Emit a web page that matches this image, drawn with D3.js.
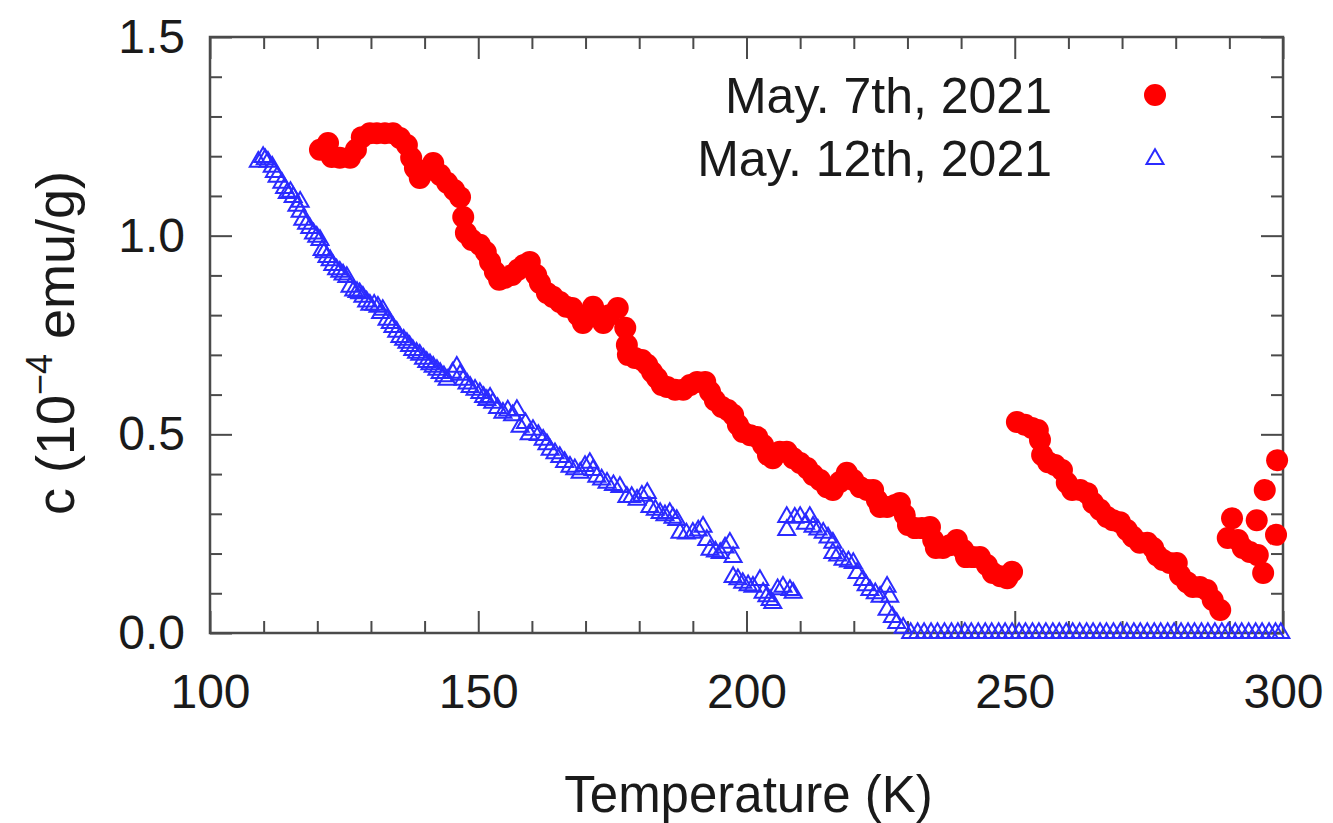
<!DOCTYPE html>
<html>
<head>
<meta charset="utf-8">
<script src="https://cdn.jsdelivr.net/npm/d3@7"></script>
<style>
  html, body { margin: 0; padding: 0; background: #fff; }
  svg { display: block; }
  text { font-family: "Liberation Sans", Arial, Helvetica, sans-serif; fill: #1a1a1a; }
</style>
</head>
<body>
<svg id="chart" width="1333" height="823"></svg>
<script>
// Susceptibility vs temperature, two measurement runs

const seriesLabels = ["May. 7th, 2021", "May. 12th, 2021"];

// Run 1 (filled red circles)
const tempMay7 = [
  120.5, 122.0, 122.7, 124.2, 126.1, 127.2, 128.3, 129.8, 131.1, 132.6,
  134.1, 135.4, 136.7, 137.5, 138.2, 139.1, 140.4, 141.6, 142.9, 144.2,
  145.5, 146.6, 147.2, 147.7, 148.8, 150.3, 151.4, 152.2, 153.1, 153.9,
  155.0, 156.3, 157.4, 158.5, 159.6, 160.8, 161.5, 162.8, 163.9, 165.2,
  166.4, 167.5, 168.6, 169.5, 170.5, 171.4, 172.3, 173.3, 174.4, 176.0,
  177.4, 177.7, 177.9, 179.2, 180.5, 181.5, 182.4, 183.3, 184.2, 185.2,
  186.7, 188.2, 189.5, 190.8, 192.3, 193.2, 194.1, 195.4, 196.5, 197.5,
  198.4, 199.3, 200.7, 202.0, 203.1, 204.0, 204.9, 206.2, 207.5, 208.7,
  210.0, 211.3, 212.4, 213.7, 215.0, 216.1, 217.4, 218.7, 219.9, 221.2,
  222.5, 223.6, 224.3, 224.9, 226.2, 227.7, 228.6, 229.5, 230.1, 231.4,
  232.7, 234.2, 234.8, 235.3, 236.6, 237.9, 239.2, 240.4, 240.9, 242.2,
  243.5, 244.8, 245.9, 247.3, 248.6, 249.5,
  250.4, 251.9, 253.2, 254.3, 254.7, 255.1, 256.2, 257.5, 258.8, 259.7,
  260.7, 262.2, 263.5, 264.6, 265.9, 267.2, 268.3, 269.6, 270.9, 272.0,
  273.3, 274.7, 275.8, 276.5, 277.6, 278.9, 280.2, 280.8, 282.1, 283.2,
  284.5, 285.8, 286.9, 288.3,
  289.7, 290.5, 291.6, 292.5, 293.8, 295.1, 295.3, 296.3, 296.6, 298.7, 298.9
];
const chiMay7 = [
  1.216, 1.233, 1.198, 1.196, 1.196, 1.216, 1.248, 1.258, 1.258, 1.258,
  1.258, 1.246, 1.228, 1.196, 1.170, 1.145, 1.165, 1.183, 1.153, 1.133,
  1.115, 1.097, 1.047, 1.007, 0.989, 0.977, 0.959, 0.934, 0.909, 0.889,
  0.894, 0.901, 0.914, 0.926, 0.934, 0.901, 0.881, 0.856, 0.846, 0.833,
  0.821, 0.818, 0.800, 0.780, 0.800, 0.821, 0.800, 0.780, 0.800, 0.818,
  0.768, 0.725, 0.700, 0.692, 0.687, 0.675, 0.657, 0.642, 0.624, 0.619,
  0.612, 0.612, 0.624, 0.632, 0.632, 0.607, 0.586, 0.569, 0.561, 0.549,
  0.524, 0.506, 0.498, 0.493, 0.473, 0.448, 0.440, 0.456, 0.456, 0.440,
  0.428, 0.415, 0.398, 0.385, 0.367, 0.360, 0.380, 0.403, 0.385, 0.367,
  0.360, 0.360, 0.335, 0.317, 0.317, 0.322, 0.327, 0.297, 0.272, 0.264,
  0.264, 0.267, 0.234, 0.214, 0.214, 0.221, 0.234, 0.209, 0.191, 0.191,
  0.191, 0.171, 0.151, 0.143, 0.138, 0.154,
  0.531, 0.524, 0.516, 0.511, 0.486, 0.448, 0.430, 0.423, 0.410, 0.378,
  0.360, 0.360, 0.352, 0.327, 0.310, 0.292, 0.284, 0.279, 0.259, 0.242,
  0.227, 0.227, 0.214, 0.196, 0.184, 0.176, 0.176, 0.146, 0.128, 0.116,
  0.116, 0.108, 0.083, 0.058,
  0.239, 0.289, 0.234, 0.214, 0.204, 0.284, 0.196, 0.151, 0.360, 0.247, 0.435
];

// Run 2 (open blue triangles)
const tempMay12 = [
  109.0, 109.9, 110.3, 110.8, 111.6, 112.0, 112.5, 113.4, 113.9, 114.4,
  115.0, 115.5, 116.2, 116.8, 116.8, 117.3, 118.0, 118.6, 119.3, 119.9,
  120.5, 120.9, 121.3, 121.8, 122.4, 122.9, 123.6, 124.2, 124.8, 125.5,
  126.1, 126.8, 127.4, 127.9, 128.5, 129.2, 129.8, 130.6, 131.3, 131.8,
  132.2, 133.0, 133.6, 134.1, 134.8, 135.4, 136.1, 136.7, 137.2, 137.8,
  138.5, 139.1, 139.8, 140.4, 141.0, 141.6, 142.3, 142.9, 143.6, 144.2,
  145.2, 146.0, 146.6, 147.2, 147.9, 148.5, 149.4, 150.3, 151.0, 151.6,
  152.2, 152.7, 153.6, 154.6, 155.5, 156.4, 157.2, 157.8, 158.8, 159.5,
  160.2, 161.2, 162.1, 162.8, 163.4, 164.3, 165.2, 166.1, 167.1, 168.0,
  169.0, 169.9, 170.8, 171.4, 172.1, 173.0, 174.0, 175.2, 176.4, 177.7,
  178.6, 179.6, 180.5, 181.5, 182.0, 183.0, 183.9, 184.8, 185.7, 186.3,
  187.0, 187.6, 188.8, 190.0, 191.0, 191.9, 192.6, 193.2, 194.2, 195.1,
  196.0, 196.9, 197.5, 197.5, 198.4, 199.3, 200.3, 201.2, 202.5, 203.1,
  203.8, 204.4, 204.9, 205.8, 206.8, 208.1, 208.7,
  207.5, 207.5, 209.0, 210.0, 211.0, 211.8, 212.4, 213.3, 214.3, 215.2,
  216.1, 216.1, 217.0, 218.0, 219.0, 219.9, 220.6, 221.7, 222.3, 223.0,
  224.0, 224.9, 226.2, 226.7, 226.2, 227.2, 228.0, 229.2,
  230.6, 231.9, 233.1, 234.4, 235.6, 236.9, 238.2, 239.4, 240.7, 241.9,
  243.2, 244.5, 245.7, 247.0, 248.2, 249.5, 250.8, 252.0, 253.3, 254.5,
  255.8, 257.1, 258.3, 259.6, 260.8, 262.1, 263.4, 264.6, 265.9, 267.1,
  268.4, 269.7, 270.9, 272.2, 273.4, 274.7, 276.0, 277.2, 278.5, 279.7,
  281.0, 282.3, 283.5, 284.8, 286.0, 287.3, 288.6, 289.8, 291.1, 292.3,
  293.6, 294.9, 296.1, 297.4, 298.6, 299.6
];
const chiMay12 = [
  1.186, 1.198, 1.192, 1.186, 1.173, 1.160, 1.148, 1.133, 1.120, 1.107,
  1.110, 1.097, 1.075, 1.085, 1.060, 1.040, 1.030, 1.019, 1.005, 0.997,
  0.989, 0.964, 0.958, 0.946, 0.938, 0.926, 0.915, 0.909, 0.902, 0.896,
  0.871, 0.862, 0.858, 0.855, 0.846, 0.834, 0.826, 0.826, 0.821, 0.805,
  0.813, 0.788, 0.780, 0.770, 0.758, 0.745, 0.738, 0.730, 0.722, 0.712,
  0.705, 0.700, 0.690, 0.682, 0.676, 0.670, 0.662, 0.654, 0.646, 0.637,
  0.655, 0.670, 0.650, 0.637, 0.628, 0.619, 0.612, 0.604, 0.594, 0.586,
  0.592, 0.579, 0.566, 0.554, 0.560, 0.548, 0.561, 0.519, 0.528, 0.500,
  0.511, 0.498, 0.486, 0.475, 0.461, 0.452, 0.443, 0.430, 0.418, 0.412,
  0.403, 0.420, 0.428, 0.410, 0.393, 0.386, 0.378, 0.372, 0.367, 0.342,
  0.342, 0.335, 0.345, 0.352, 0.317, 0.310, 0.302, 0.296, 0.302, 0.290,
  0.284, 0.252, 0.250, 0.252, 0.258, 0.267, 0.234, 0.209, 0.205, 0.201,
  0.215, 0.227, 0.191, 0.141, 0.135, 0.126, 0.120, 0.116, 0.133, 0.101,
  0.092, 0.083, 0.075, 0.110, 0.116, 0.108, 0.101,
  0.292, 0.259, 0.290, 0.292, 0.275, 0.292, 0.267, 0.260, 0.252, 0.240,
  0.227, 0.201, 0.195, 0.184, 0.180, 0.176, 0.151, 0.133, 0.120, 0.108,
  0.100, 0.091, 0.116, 0.091, 0.058, 0.040, 0.025, 0.013,
  0, 0, 0, 0, 0, 0, 0, 0, 0, 0,
  0, 0, 0, 0, 0, 0, 0, 0, 0, 0,
  0, 0, 0, 0, 0, 0, 0, 0, 0, 0,
  0, 0, 0, 0, 0, 0, 0, 0, 0, 0,
  0, 0, 0, 0, 0, 0, 0, 0, 0, 0,
  0, 0, 0, 0, 0, 0
];

// Axis ticks
const xMajorTicks = [100, 150, 200, 250, 300];
const xMinorTicks = [110, 120, 130, 140, 160, 170, 180, 190, 210, 220, 230, 240, 260, 270, 280, 290];
const yMajorTicks = [0.0, 0.5, 1.0, 1.5];
const yMinorTicks = [0.1, 0.2, 0.3, 0.4, 0.6, 0.7, 0.8, 0.9, 1.1, 1.2, 1.3, 1.4];

const plot = { left: 210, right: 1283, top: 37, bottom: 633 };
const frameColor = "#4a4a4a";
const red = "#ff0000";
const blue = "#2b2bff";

const svg = d3.select("#chart");

const x = d3.scaleLinear().domain([100, 300]).range([plot.left, plot.right]);
const y = d3.scaleLinear().domain([0, 1.5]).range([plot.bottom, plot.top]);

function styleAxis(g) {
  g.select(".domain").remove();
  g.selectAll(".tick line").attr("stroke", frameColor).attr("stroke-width", 2);
  g.selectAll(".tick text").style("font-size", "48px").style("fill", "#1a1a1a");
}

// Bottom axis: inward ticks with labels
svg.append("g")
  .attr("transform", `translate(0,${plot.bottom})`)
  .call(d3.axisBottom(x).tickValues(xMajorTicks).tickSize(-22).tickPadding(41).tickFormat(d3.format("d")))
  .call(styleAxis);
svg.append("g")
  .attr("transform", `translate(0,${plot.bottom})`)
  .call(d3.axisBottom(x).tickValues(xMinorTicks).tickSize(-12).tickFormat(""))
  .call(styleAxis);

// Top axis: mirrored ticks
svg.append("g")
  .attr("transform", `translate(0,${plot.top})`)
  .call(d3.axisTop(x).tickValues(xMajorTicks).tickSize(-22).tickFormat(""))
  .call(styleAxis);
svg.append("g")
  .attr("transform", `translate(0,${plot.top})`)
  .call(d3.axisTop(x).tickValues(xMinorTicks).tickSize(-12).tickFormat(""))
  .call(styleAxis);

// Left axis
svg.append("g")
  .attr("transform", `translate(${plot.left},0)`)
  .call(d3.axisLeft(y).tickValues(yMajorTicks).tickSize(-22).tickPadding(25).tickFormat(d3.format(".1f")))
  .call(styleAxis);
svg.append("g")
  .attr("transform", `translate(${plot.left},0)`)
  .call(d3.axisLeft(y).tickValues(yMinorTicks).tickSize(-12).tickFormat(""))
  .call(styleAxis);

// Right axis: mirrored ticks
svg.append("g")
  .attr("transform", `translate(${plot.right},0)`)
  .call(d3.axisRight(y).tickValues(yMajorTicks).tickSize(-22).tickFormat(""))
  .call(styleAxis);
svg.append("g")
  .attr("transform", `translate(${plot.right},0)`)
  .call(d3.axisRight(y).tickValues(yMinorTicks).tickSize(-12).tickFormat(""))
  .call(styleAxis);

// Plot frame
svg.append("rect")
  .attr("x", plot.left).attr("y", plot.top)
  .attr("width", plot.right - plot.left).attr("height", plot.bottom - plot.top)
  .attr("fill", "none").attr("stroke", frameColor).attr("stroke-width", 2.5);

// Axis titles
svg.append("text")
  .attr("x", (plot.left + plot.right) / 2 + 2)
  .attr("y", 812)
  .attr("text-anchor", "middle")
  .style("font-size", "51px")
  .text("Temperature (K)");

const yTitle = svg.append("text")
  .attr("transform", `translate(74,${(plot.top + plot.bottom) / 2 + 8}) rotate(-90)`)
  .attr("text-anchor", "middle")
  .style("font-size", "54px");
yTitle.append("tspan").text("c (10");
yTitle.append("tspan").attr("dy", -22).style("font-size", "36px").text("\u22124");
yTitle.append("tspan").attr("dy", 22).text(" emu/g)");

// Markers
const triangle = d3.symbol().type(d3.symbolTriangle).size(125);

const pointsMay7 = tempMay7.map((t, i) => ({ t, v: chiMay7[i] }));
const pointsMay12 = tempMay12.map((t, i) => ({ t, v: chiMay12[i] }));

svg.append("g").selectAll("circle")
  .data(pointsMay7)
  .join("circle")
  .attr("cx", d => x(d.t))
  .attr("cy", d => y(d.v))
  .attr("r", 11)
  .attr("fill", red);

svg.append("g").selectAll("path")
  .data(pointsMay12)
  .join("path")
  .attr("d", triangle)
  .attr("transform", d => `translate(${x(d.t)},${y(d.v)})`)
  .attr("fill", "none")
  .attr("stroke", blue)
  .attr("stroke-width", 2);

// Legend
const legend = svg.append("g");
legend.append("text")
  .attr("x", 1052).attr("y", 113)
  .attr("text-anchor", "end")
  .style("font-size", "50px")
  .text(seriesLabels[0]);
legend.append("text")
  .attr("x", 1052).attr("y", 176)
  .attr("text-anchor", "end")
  .style("font-size", "50px")
  .text(seriesLabels[1]);
legend.append("circle")
  .attr("cx", 1155).attr("cy", 95).attr("r", 11).attr("fill", red);
legend.append("path")
  .attr("d", triangle)
  .attr("transform", "translate(1155,159)")
  .attr("fill", "none").attr("stroke", blue).attr("stroke-width", 2);
</script>
</body>
</html>
